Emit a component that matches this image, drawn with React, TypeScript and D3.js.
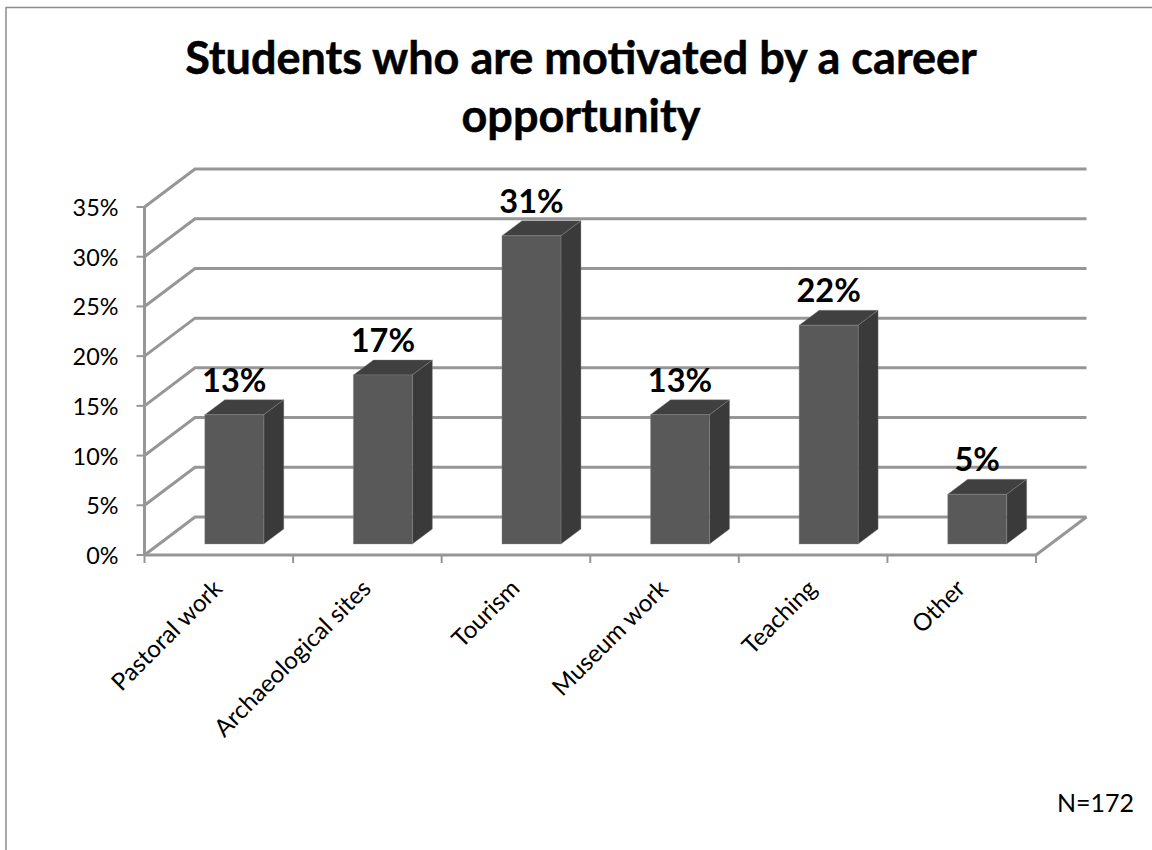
import React from "react";
import * as d3 from "d3";

const categories = ["Pastoral work", "Archaeological sites", "Tourism", "Museum work", "Teaching", "Other"];
const percentValues = [13, 17, 31, 13, 22, 5];
const percentTicks = [0, 5, 10, 15, 20, 25, 30, 35];
const titleLines = ["Students who are motivated by a career", "opportunity"];
const sampleNote = "N=172";

const W = 1152;
const H = 850;
const FONT = "Lato, Carlito, sans-serif";
const GRID = "#969696";

// Oblique projection of the plot: the floor recedes up and to the right.
const WALL_DX = 50.5;
const WALL_DY = -38;
const BAR_FRONT_DX = 15.5;
const BAR_FRONT_DY = -11;
const BAR_DX = 20;
const BAR_DY = -15;
const BAR_W = 59;

const x = d3.scaleBand<string>().domain(categories).range([144.5, 1036]);
const y = d3.scaleLinear().domain([0, 35]).range([555, 207]);

const pts = (p: [number, number][]) => p.map((q) => q.join(",")).join(" ");

export default function App() {
  const x0 = x.range()[0];
  const x1 = x.range()[1];
  const y0 = y(0);
  return (
    <svg
      width={W}
      height={H}
      viewBox={`0 0 ${W} ${H}`}
      style={{ position: "absolute", left: 0, top: 0, background: "#fff", display: "block" }}
      fontFamily={FONT}
    >
      <path d={`M6,${H}V7.5H${W}`} fill="none" stroke="#8c8c8c" strokeWidth={1.5} />

      {titleLines.map((t, i) => (
        <text
          key={t}
          x={581}
          y={74 + i * 58}
          textAnchor="middle"
          fontSize={45}
          fontWeight={700}
          fill="#000"
          stroke="#000"
          strokeWidth={0.5}
        >
          {t}
        </text>
      ))}

      {percentTicks.map((t) => (
        <g key={t}>
          <polyline
            points={pts([
              [x0, y(t)],
              [x0 + WALL_DX, y(t) + WALL_DY],
              [x1 + WALL_DX, y(t) + WALL_DY],
            ])}
            fill="none"
            stroke={GRID}
            strokeWidth={3}
          />
          <line x1={x0 - 8} x2={x0} y1={y(t)} y2={y(t)} stroke={GRID} strokeWidth={2} />
          <text x={118.5} y={y(t) + 9} textAnchor="end" fontSize={23.4} fill="#000">
            {t}%
          </text>
        </g>
      ))}

      <line x1={x0} x2={x0} y1={y(35)} y2={y0} stroke={GRID} strokeWidth={3} />
      <line x1={x0} x2={x1} y1={y0} y2={y0} stroke={GRID} strokeWidth={3} />
      <line x1={x1} x2={x1 + WALL_DX} y1={y0} y2={y0 + WALL_DY} stroke={GRID} strokeWidth={3} />
      {d3.range(categories.length + 1).map((i) => {
        const tx = x0 + i * x.bandwidth();
        return <line key={i} x1={tx} x2={tx} y1={y0} y2={y0 + 8} stroke={GRID} strokeWidth={2} />;
      })}

      {categories.map((c, i) => {
        const v = percentValues[i];
        const left = (x(c) as number) + x.bandwidth() / 2 + BAR_FRONT_DX - BAR_W / 2;
        const right = left + BAR_W;
        const bottom = y0 + BAR_FRONT_DY;
        const top = bottom - (y0 - y(v));
        return (
          <g key={c}>
            <polygon
              points={pts([
                [left, top],
                [right, top],
                [right + BAR_DX, top + BAR_DY],
                [left + BAR_DX, top + BAR_DY],
              ])}
              fill="#404040"
              stroke="#8a8a8a"
              strokeOpacity={0.35}
            />
            <polygon
              points={pts([
                [right, top],
                [right + BAR_DX, top + BAR_DY],
                [right + BAR_DX, bottom + BAR_DY],
                [right, bottom],
              ])}
              fill="#3a3a3a"
              stroke="#8a8a8a"
              strokeOpacity={0.35}
            />
            <rect x={left} y={top} width={BAR_W} height={bottom - top} fill="#595959" stroke="#8a8a8a" strokeOpacity={0.35} />
            <text
              x={(left + right) / 2}
              y={top + BAR_DY - 8}
              textAnchor="middle"
              fontSize={32.5}
              fontWeight={700}
              fill="#000"
            >
              {v}%
            </text>
          </g>
        );
      })}

      {categories.map((c) => {
        const cx = (x(c) as number) + x.bandwidth() / 2;
        return (
          <text
            key={c}
            transform={`translate(${cx + 5},${y0 + 35}) rotate(-45)`}
            textAnchor="end"
            fontSize={24.2}
            fill="#000"
          >
            {c}
          </text>
        );
      })}

      <text x={1134} y={812} textAnchor="end" fontSize={25} fill="#000">
        {sampleNote}
      </text>
    </svg>
  );
}
